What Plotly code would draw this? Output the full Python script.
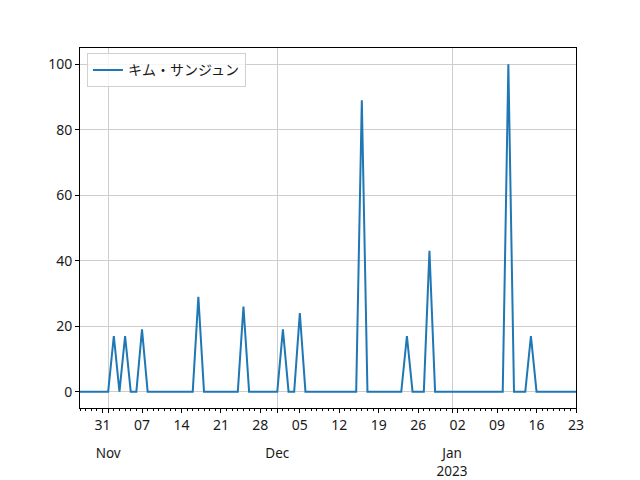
import plotly.graph_objects as go
import pandas as pd

series_name = "キム・サンジュン"
start_date = "2022-10-27"
end_date = "2023-01-23"
# daily values from 2022-10-27 to 2023-01-23
values = [
    0, 0, 0, 0, 0, 0, 17, 0, 17, 0,
    0, 19, 0, 0, 0, 0, 0, 0, 0, 0,
    0, 29, 0, 0, 0, 0, 0, 0, 0, 26,
    0, 0, 0, 0, 0, 0, 19, 0, 0, 24,
    0, 0, 0, 0, 0, 0, 0, 0, 0, 0,
    89, 0, 0, 0, 0, 0, 0, 0, 17, 0,
    0, 0, 43, 0, 0, 0, 0, 0, 0, 0,
    0, 0, 0, 0, 0, 0, 100, 0, 0, 0,
    17, 0, 0, 0, 0, 0, 0, 0, 0,
]
week_ticks = ["2022-10-31", "2022-11-07", "2022-11-14", "2022-11-21", "2022-11-28",
              "2022-12-05", "2022-12-12", "2022-12-19", "2022-12-26", "2023-01-02",
              "2023-01-09", "2023-01-16", "2023-01-23"]
week_labels = ["31", "07", "14", "21", "28", "05", "12", "19", "26", "02", "09", "16", "23"]
month_ticks = ["2022-11-01", "2022-12-01", "2023-01-01"]
month_labels = ["Nov", "Dec", "Jan<br>2023"]
y_ticks = [0, 20, 40, 60, 80, 100]

dates = pd.date_range(start_date, end_date, freq="D")

FONT = "Noto Sans, Noto Sans CJK JP, DejaVu Sans, sans-serif"
GRID = "#cdcdcd"
TXT = "#1a1a1a"

fig = go.Figure()
fig.add_trace(go.Scatter(x=dates, y=values, mode="lines", name=series_name,
                         line=dict(color="#1f77b4", width=2), xaxis="x", yaxis="y"))
fig.add_trace(go.Scatter(x=[dates[0], dates[-1]], y=[None, None], mode="lines",
                         showlegend=False, xaxis="x2", yaxis="y", hoverinfo="skip"))

xrange = [dates[0], dates[-1]]
fig.update_layout(
    width=640, height=480,
    margin=dict(l=80, r=64, t=48, b=72),
    paper_bgcolor="white", plot_bgcolor="white",
    font=dict(family=FONT, size=14, color=TXT),
    showlegend=True,
    legend=dict(x=0.014, y=0.985, xanchor="left", yanchor="top",
                bgcolor="rgba(255,255,255,0.8)", bordercolor="#d0d0d0", borderwidth=1,
                font=dict(family=FONT, size=14, color=TXT)),
    xaxis=dict(
        range=xrange, type="date", automargin=False,
        tickmode="array", tickvals=week_ticks, ticktext=week_labels,
        ticks="outside", ticklen=4, tickcolor="black", tickwidth=1,
        showgrid=False, zeroline=False,
        showline=True, linecolor="black", linewidth=1, mirror=True,
        minor=dict(dtick=86400000, tick0=start_date, ticks="outside", ticklen=2,
                   tickcolor="black", showgrid=False),
    ),
    xaxis2=dict(
        range=xrange, type="date", overlaying="x", side="bottom", anchor="y",
        automargin=False,
        tickmode="array", tickvals=month_ticks, ticktext=month_labels,
        tickfont=dict(size=13.5),
        ticks="outside", ticklen=4, tickcolor="black",
        ticklabelstandoff=29,
        showgrid=True, gridcolor=GRID, gridwidth=1, zeroline=False,
        showline=False,
    ),
    yaxis=dict(
        range=[-5, 105], tickmode="array", tickvals=y_ticks, automargin=False,
        ticks="outside", ticklen=4, tickcolor="black",
        showgrid=True, gridcolor=GRID, gridwidth=1, zeroline=False,
        showline=True, linecolor="black", linewidth=1, mirror=True,
    ),
)

fig.write_html("out.html", config={"displayModeBar": False},
               post_script="document.body.style.margin='0';")
